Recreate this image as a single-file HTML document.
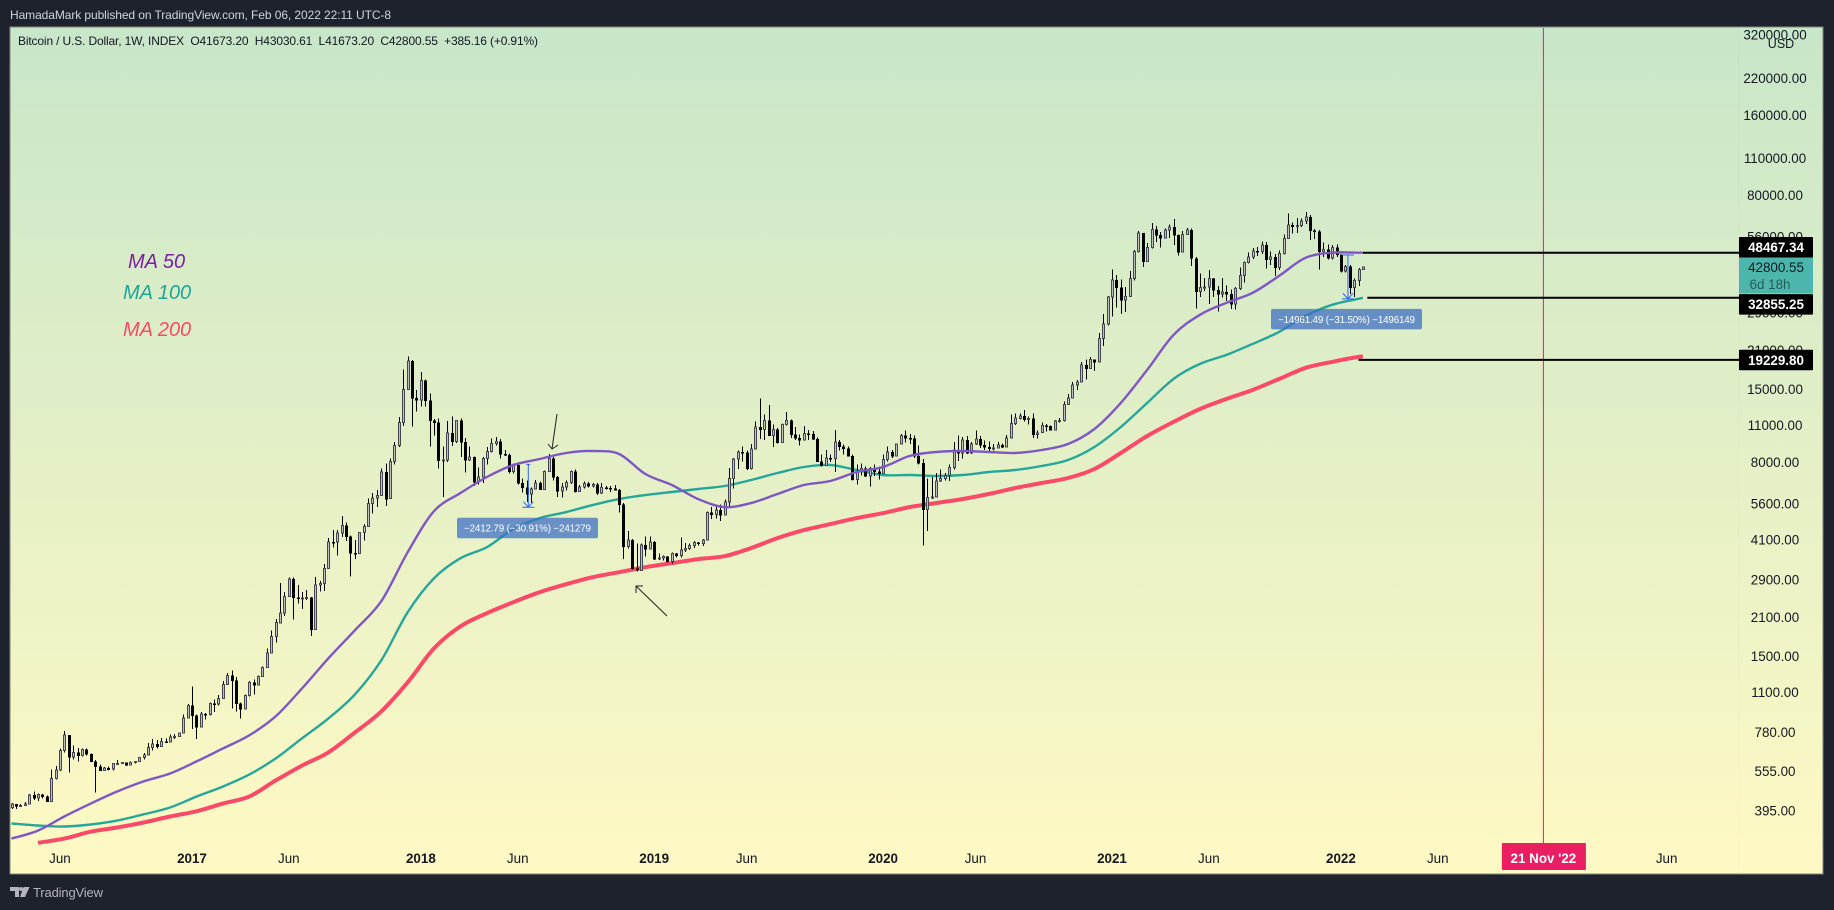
<!DOCTYPE html>
<html lang="en">
<head>
<meta charset="utf-8">
<title>Bitcoin / U.S. Dollar weekly chart</title>
<style>
html,body{margin:0;padding:0;background:#1e222d;width:1834px;height:910px;overflow:hidden}
svg{display:block}
text{font-family:"Liberation Sans",sans-serif}
</style>
</head>
<body>
<svg id="root" xmlns="http://www.w3.org/2000/svg" width="1834" height="910" viewBox="0 0 1834 910">
  <defs>
    <linearGradient id="bg" x1="0" y1="0" x2="0" y2="1">
      <stop offset="0" stop-color="#c8e6c9"/>
      <stop offset="1" stop-color="#fff9c4"/>
    </linearGradient>
  </defs>
  <rect x="0" y="0" width="1834" height="910" fill="#1e222d"/>
  <text x="10" y="19" font-size="12" fill="#d1d4dc" textLength="381" lengthAdjust="spacing">HamadaMark published on TradingView.com, Feb 06, 2022 22:11 UTC-8</text>
  <rect x="10" y="27" width="1813" height="847" fill="url(#bg)" stroke="#858578" stroke-width="1"/>
  <line x1="1738.5" y1="28" x2="1738.5" y2="873" stroke="#000" stroke-opacity="0.02"/>
  <g id="series"></g>
  <g id="annotations"></g>
  <g id="yaxis"></g>
  <g id="xaxis"></g>
  <g id="tags"></g>
  <text x="18" y="45" font-size="12" fill="#131722" textLength="520" lengthAdjust="spacing" xml:space="preserve">Bitcoin / U.S. Dollar, 1W, INDEX  O41673.20  H43030.61  L41673.20  C42800.55  +385.16 (+0.91%)</text>
  <text x="1781" y="48" text-anchor="middle" font-size="12.5" fill="#131722">USD</text>
  <text x="128" y="268" font-size="20" font-style="italic" fill="#7b1fa2">MA 50</text>
  <text x="123" y="299" font-size="20" font-style="italic" fill="#1fa596">MA 100</text>
  <text x="123" y="336" font-size="20" font-style="italic" fill="#f94a66">MA 200</text>
  <g>
    <polygon points="10,887 19,887 19,897 15,897 15,891 10,891" fill="#b2b5be"/>
    <circle cx="21" cy="889" r="2" fill="#b2b5be"/>
    <polygon points="23.5,887 29.5,887 25,897 20,897" fill="#b2b5be"/>
    <text x="33" y="897" font-size="13" fill="#b2b5be" textLength="70" lengthAdjust="spacing">TradingView</text>
  </g>
</svg>
<script>
// ---- data: weekly bars ----
const firstOpen = 404;
const closes = [
417,409,411,416,451,438,452,445,426,518,
559,660,755,625,649,634,667,642,602,576,
556,568,562,590,592,595,583,596,600,622,
636,679,698,683,713,710,741,745,768,875,
975,895,810,905,900,990,985,1035,1170,1265,
1210,990,945,1060,1190,1165,1250,1350,1530,1765,
1990,2165,2500,2900,2475,2460,2465,2470,1880,2760,
2790,3175,4000,3990,4320,4605,4180,3630,3620,4340,
4570,5560,5840,5970,7300,5800,7990,9200,11200,14880,
19050,13820,13600,16100,13530,11400,11200,8060,8090,10250,
9490,11400,9450,8100,8300,6700,7000,8220,8720,9330,
9520,8550,8450,7340,7750,6650,6400,6050,6320,6650,
6290,7350,8200,7000,6200,6420,6670,7340,6180,6430,
6630,6470,6550,6100,6380,6370,6350,6250,5520,3850,
4060,3180,3130,3900,3760,3990,3455,3480,3520,3370,
3620,3560,3730,3780,3880,3970,3950,4060,5150,5070,
5260,5050,5640,6920,8170,8690,8660,7520,8900,10770,
10550,11400,10020,10540,9430,11000,11400,10100,9800,9630,
10200,10150,9720,8000,7740,8230,8200,9480,9100,8950,
8400,6850,7330,7530,7070,7540,7330,7220,8150,8700,
8400,9300,10000,9780,9750,8380,7900,5290,5870,5900,
6750,6900,7080,7600,8820,8610,9630,8610,9320,9720,
9220,9070,8950,9000,9220,9060,9800,11100,11620,11850,
11480,11600,10100,10250,10900,10850,10500,11350,11400,13100,
13850,15500,15900,18400,17870,19300,18840,23100,26150,33100,
38300,35900,32200,33200,38800,48900,57400,45000,50600,59300,
56500,55000,58900,60400,56500,48800,56800,58900,46200,34700,
35900,36100,38800,35200,34000,34600,34000,31200,35600,39800,
44500,46700,49200,49000,51800,45800,46800,42600,48200,54800,
61600,60700,61300,63700,65900,58600,58300,49000,49900,46300,
50700,47700,41300,43100,35900,38100,42000,42800
];
const highs = [
421,417,417,424,455,463,456,455,449,561,
578,672,783,755,690,675,673,673,645,610,
585,572,575,594,609,598,597,600,601,626,
648,706,730,725,735,733,758,762,770,900,
985,1150,900,920,915,1000,1025,1065,1205,1290,
1320,1245,1000,1070,1205,1220,1260,1365,1590,1865,
2055,2800,2600,2940,2945,2760,2600,2640,2490,2950,
2850,3300,4135,4425,4425,4990,4730,4220,4060,4350,
4660,5810,6090,6250,7540,7870,8200,9450,11750,17700,
19750,19230,14840,17300,16200,14400,11540,11600,9100,11350,
11800,11450,11600,9800,9100,8350,7600,8300,9050,9750,
9900,9700,8830,8560,7870,7830,6900,6800,6400,6820,
6730,7400,8550,8300,7050,6640,6780,7400,7450,6530,
6730,6700,6650,6650,6650,6470,6480,6520,6300,5600,
4400,4100,3950,3950,4190,4180,4020,3610,3550,3540,
3650,3640,4150,3960,3950,4020,4000,4100,5190,5410,
5420,5530,5760,7560,8230,8800,9100,8800,9300,11310,
13800,12000,13040,10990,10700,11100,12250,11500,10780,10100,
10850,10500,10400,9850,8500,8820,8500,10500,9630,9250,
9100,8500,7800,7850,7650,7640,7800,7650,8500,9100,
8850,9350,10150,10450,10150,10000,9200,8180,6900,7000,
7250,7450,7250,7780,9450,10000,9900,9950,9450,10450,
9950,9600,9500,9300,9470,9350,10050,12000,12100,12100,
12450,11800,12100,10450,11200,11050,10900,11450,11650,13400,
14300,15900,16150,18900,19300,19700,19300,24250,28500,33400,
42000,40000,38400,36000,41300,49700,58500,57500,52800,62700,
60900,58000,59700,61900,64800,56700,58500,59900,59600,46800,
40500,39000,41800,39000,36300,38900,36500,35300,36000,42700,
44900,48500,50400,51000,53500,53100,48900,47900,49300,56800,
67900,62800,65400,65000,69000,67000,59500,59000,53000,52000,
51800,52000,47500,43500,43600,38800,42500,43030
];
const lows = [
399,399,406,411,416,432,427,437,426,426,
515,553,650,546,612,600,628,634,600,460,
553,553,557,557,582,590,579,583,592,600,
611,634,661,671,680,708,708,730,745,767,
870,795,730,810,865,895,920,975,1030,1165,
950,925,870,945,1055,1070,1165,1245,1345,1525,
1680,1975,2105,2490,2050,2345,2240,2420,1775,1880,
2610,2620,3170,3810,3555,4175,4025,2970,3450,3600,
4050,4570,5110,5400,5950,5450,5790,7800,9050,10860,
14850,10800,12300,12850,12850,9100,9990,7540,5880,7950,
9150,9400,8300,7280,8050,6480,6550,6640,7800,8650,
9200,8220,8400,7200,7200,6560,6130,5650,5620,6270,
6250,6290,7300,6800,5880,5870,6240,6600,6130,6170,
6350,6380,6400,6000,6050,6290,6150,6230,5150,3450,
3780,3150,3100,3140,3520,3740,3420,3420,3400,3350,
3320,3500,3500,3660,3720,3790,3870,3860,4040,4880,
4900,4790,5020,5430,6340,7500,7990,7420,7480,8900,
9700,9630,9980,9050,9340,9400,10900,9780,9650,9200,
9630,9650,9650,7950,7650,7700,7950,7300,8800,8500,
8350,6800,6550,7100,7000,6450,7070,6850,7220,8000,
8230,8400,9300,9420,9300,8250,7800,3870,4400,5800,
5870,6700,6780,6750,7480,8050,8200,8550,8550,9240,
9000,8850,8650,8800,8970,9000,9050,9750,10950,11500,
11300,11000,9780,9770,10300,10350,10430,10500,11200,11300,
13050,13800,14850,15900,16200,17900,17500,18800,21700,25900,
27900,30200,28600,29000,33000,38200,48500,42900,45000,50200,
53100,50800,54700,55100,51800,47300,49000,56600,43200,29900,
33000,34900,31200,33000,29200,32900,32000,29800,29700,35200,
37400,44100,46000,47200,47900,42300,43500,39600,41800,47700,
54500,57300,57500,60400,62000,54000,54600,42000,46800,45800,
45800,46700,40800,40900,34000,33000,36300,41670
];

// ---- data: moving averages sampled at these bar numbers ----
const maWeeks = [
0,6,12,18,24,30,36,42,48,54,
60,66,72,78,84,90,96,102,108,114,
120,126,132,138,144,150,156,162,168,174,
180,186,192,198,204,210,216,222,228,234,
240,246,252,258,264,270,276,282,288,294,
300,306,307
];
const ma50Values = [
309,331,374,418,464,506,542,601,672,753,
887,1129,1464,1865,2396,3659,5215,6093,6996,7760,
8173,8609,8759,8534,7179,6529,5785,5398,5588,6041,
6529,6759,7305,7626,8387,8683,8759,8683,8609,8835,
9304,10590,13262,17640,23866,28367,31464,34309,39740,46425,
48467,48467,48467
];
const ma100Values = [
352,346,343,349,361,381,404,444,484,537,
617,734,872,1072,1439,2179,2923,3474,3820,4464,
4909,5170,5493,5785,5988,6146,6307,6473,6817,7242,
7626,7760,7432,7118,7118,7057,7118,7305,7432,7695,
8103,9066,10776,13262,16320,18576,20073,22083,24491,28124,
30925,32570,32855
];
const ma200Values = [
null,298,309,328,340,355,374,391,418,444,
510,580,650,772,926,1190,1596,1930,2160,2375,
2590,2775,2949,3078,3214,3327,3445,3534,3788,4130,
4425,4661,4909,5125,5398,5588,5785,6041,6362,6642,
6936,7497,8609,9970,11253,12588,13729,14840,16320,17947,
18899,19730,19730
];

// ---- data: axis ticks and drawn levels ----
const priceTicks = [320000,220000,160000,110000,80000,56000,42000,29000,21000,15000,11000,8000,5600,4100,2900,2100,1500,1100,780,555,395];
const timeTickLabels = ["Jun","2017","Jun","2018","Jun","2019","Jun","2020","Jun","2021","Jun","2022","Jun","Jun"];
const timeTickWeeks = [11,41,63,93,115,146,167,198,219,250,272,302,324,376];
const boldTimeTicks = ["2017","2018","2019","2020","2021","2022"];
const cursorWeek = 348;
const cursorLabel = "21 Nov '22";
const levelPrices = [48467.34,32855.25,19229.80];
const levelStartWeeks = [307,308,306];
const lastPrice = 42800.55;
const measureWeeks = [117.4,303.6];
const measureTop = [7805,47497];
const measureBottom = [5393,32536];
const measureLabels = ["\u22122412.79 (\u221230.91%) \u2212241279","\u221214961.49 (\u221231.50%) \u22121496149"];

// ---- axis functions ----
const pxPerLog = 115.9;
function xOf(week){ return 11.5 + 4.402 * week; }
function yOf(price){ return 252.7 + pxPerLog * Math.log(48467.34 / price); }
const axisRight = 1739;

const NS = 'http://www.w3.org/2000/svg';
function make(parent, tag, props){
  const el = document.createElementNS(NS, tag);
  for (const k in props) el.setAttribute(k, props[k]);
  parent.appendChild(el);
  return el;
}
const series = document.getElementById('series');
const annotations = document.getElementById('annotations');
const yaxis = document.getElementById('yaxis');
const xaxis = document.getElementById('xaxis');
const tags = document.getElementById('tags');

// ---- moving averages (under the candles) ----
function smoothPath(pts){
  let d = 'M' + pts[0][0].toFixed(1) + ' ' + pts[0][1].toFixed(1);
  for (let i = 0; i < pts.length - 1; i++){
    const p0 = pts[Math.max(0, i - 1)], p1 = pts[i], p2 = pts[i + 1], p3 = pts[Math.min(pts.length - 1, i + 2)];
    const c1x = p1[0] + (p2[0] - p0[0]) / 6, c1y = p1[1] + (p2[1] - p0[1]) / 6;
    const c2x = p2[0] - (p3[0] - p1[0]) / 6, c2y = p2[1] - (p3[1] - p1[1]) / 6;
    d += 'C' + c1x.toFixed(1) + ' ' + c1y.toFixed(1) + ' ' + c2x.toFixed(1) + ' ' + c2y.toFixed(1) + ' ' + p2[0].toFixed(1) + ' ' + p2[1].toFixed(1);
  }
  return d;
}
function maPoints(values){
  const pts = [];
  values.forEach(function(v, i){ if (v !== null) pts.push([xOf(maWeeks[i]), yOf(v)]); });
  return pts;
}
const ma200Line = make(series, 'path', {d: smoothPath(maPoints(ma200Values)), fill: 'none', stroke: '#fb4a68', 'stroke-width': 4, 'stroke-linejoin': 'round'});


const ma100Line = make(series, 'path', {d: smoothPath(maPoints(ma100Values)), fill: 'none', stroke: '#26a69a', 'stroke-width': 2.4, 'stroke-linejoin': 'round'});



// ---- candles ----
closes.forEach(function(close, i){
  const open = i === 0 ? firstOpen : closes[i - 1];
  const up = close >= open;
  const cx = Math.round(xOf(i)) + 0.5;
  const yTop = yOf(Math.max(open, close));
  const yBot = yOf(Math.min(open, close));
  const wick = make(series, 'line', {x1: cx, x2: cx, y1: yOf(highs[i]).toFixed(1), y2: yOf(lows[i]).toFixed(1), stroke: '#000', 'stroke-width': 1, 'shape-rendering': 'crispEdges'});
  
  
  const h = Math.max(1, yBot - yTop);
  const body = up
    ? make(series, 'rect', {x: cx - 1, y: yTop.toFixed(1), width: 2, height: h.toFixed(1), fill: '#ffffff', 'fill-opacity': 0.75, stroke: '#434651', 'stroke-width': 1, 'shape-rendering': 'crispEdges'})
    : make(series, 'rect', {x: cx - 1.5, y: yTop.toFixed(1), width: 3, height: (h + 0.5).toFixed(1), fill: '#000', 'shape-rendering': 'crispEdges'});
  
  
});

const ma50Line = make(series, 'path', {d: smoothPath(maPoints(ma50Values)), fill: 'none', stroke: '#7e57c2', 'stroke-width': 2.4, 'stroke-linejoin': 'round'});



// ---- cursor line and level lines ----
const cursorLine = make(annotations, 'line', {x1: xOf(cursorWeek), x2: xOf(cursorWeek), y1: 28, y2: 843, stroke: '#e91e63', 'stroke-width': 1});


levelPrices.forEach(function(p, i){
  const y = yOf(p);
  const lvl = make(annotations, 'line', {x1: xOf(levelStartWeeks[i]), x2: axisRight, y1: y, y2: y, stroke: '#000', 'stroke-width': 2});
  
  
});

// ---- arrows ----
const arrow1 = make(annotations, 'path', {d: 'M557 414L552 449M548 444L552 449L558 445', fill: 'none', stroke: '#222', 'stroke-width': 1});


const arrow2 = make(annotations, 'path', {d: 'M667 616L636 586M643 586L636 586L636 593', fill: 'none', stroke: '#222', 'stroke-width': 1});



// ---- measure tools ----
measureWeeks.forEach(function(w, i){
  const x = xOf(w), y1 = yOf(measureTop[i]), y2 = yOf(measureBottom[i]);
  const half = i === 0 ? 2 : 6;
  const m = make(annotations, 'path', {d: 'M' + (x - half) + ' ' + y1 + 'H' + (x + half) + 'M' + x + ' ' + y1 + 'V' + y2 + 'M' + (x - 5) + ' ' + (y2 - 5.5) + 'L' + x + ' ' + y2 + 'L' + (x + 5) + ' ' + (y2 - 5.5) + 'M' + (x - 6) + ' ' + y2 + 'H' + (x + 6), fill: 'none', stroke: '#2962ff', 'stroke-width': 1});
  
  
  const boxW = i === 0 ? 141 : 151;
  const boxX = i === 0 ? 457 : 1271;
  const boxY = y2 + (i === 0 ? 10.5 : 10);
  const box = make(annotations, 'rect', {x: boxX, y: boxY, width: boxW, height: 20.5, rx: 2, fill: '#3f6fc4', 'fill-opacity': 0.75});
  
  
  const txt = make(annotations, 'text', {x: boxX + boxW / 2, y: boxY + 14, 'text-anchor': 'middle', 'font-size': 9.8, fill: '#fff', textLength: boxW - 14, lengthAdjust: 'spacing'});
  txt.textContent = measureLabels[i];
  
  
});

// ---- axes ----
priceTicks.forEach(function(p){
  const t = make(yaxis, 'text', {x: 1775, y: (yOf(p) + 5.5).toFixed(1), 'text-anchor': 'middle', 'font-size': 13.4, fill: '#131722'});
  t.textContent = p.toFixed(2);
  
  
});
timeTickLabels.forEach(function(lbl, i){
  const isYear = boldTimeTicks.indexOf(lbl) >= 0;
  const t = make(xaxis, 'text', {x: xOf(timeTickWeeks[i]), y: 863, 'text-anchor': 'middle', 'font-size': 13.4, 'font-weight': isYear ? 700 : 400, fill: '#131722'});
  t.textContent = lbl;
  
  
});
const cursorBox = make(xaxis, 'rect', {x: xOf(cursorWeek) - 41.5, y: 843, width: 84, height: 27, rx: 1, fill: '#e91e63'});


const cursorText = make(xaxis, 'text', {x: xOf(cursorWeek), y: 863, 'text-anchor': 'middle', 'font-size': 13.4, 'font-weight': 700, fill: '#fff'});
cursorText.textContent = cursorLabel;



// ---- price tags ----
const tagBoxOffsets = [-15.7, -3.7, -10];
levelPrices.forEach(function(p, i){
  const y = yOf(p) + tagBoxOffsets[i];
  const box = make(tags, 'rect', {x: axisRight, y: y.toFixed(1), width: 74, height: 20.5, rx: 1, fill: '#000'});
  
  
  const t = make(tags, 'text', {x: 1776, y: (y + 15).toFixed(1), 'text-anchor': 'middle', 'font-size': 13.4, 'font-weight': 700, fill: '#fff'});
  t.textContent = p.toFixed(2);
  
  
});
const lastY = yOf(lastPrice);
const lastBox = make(tags, 'rect', {x: axisRight, y: (lastY - 10.5).toFixed(1), width: 74, height: 37, fill: '#4db6ac'});


const lastText = make(tags, 'text', {x: 1776, y: (lastY + 5).toFixed(1), 'text-anchor': 'middle', 'font-size': 13.4, fill: '#131722'});
lastText.textContent = lastPrice.toFixed(2);


const countdown = make(tags, 'text', {x: 1770, y: (lastY + 22).toFixed(1), 'text-anchor': 'middle', 'font-size': 13.4, fill: '#1f5f5a'});
countdown.textContent = '6d 18h';


// the first two level tags sit above the teal box
tags.appendChild(tags.children[0]);
tags.appendChild(tags.children[0]);
tags.appendChild(tags.children[0]);
tags.appendChild(tags.children[0]);
</script>
</body>
</html>
